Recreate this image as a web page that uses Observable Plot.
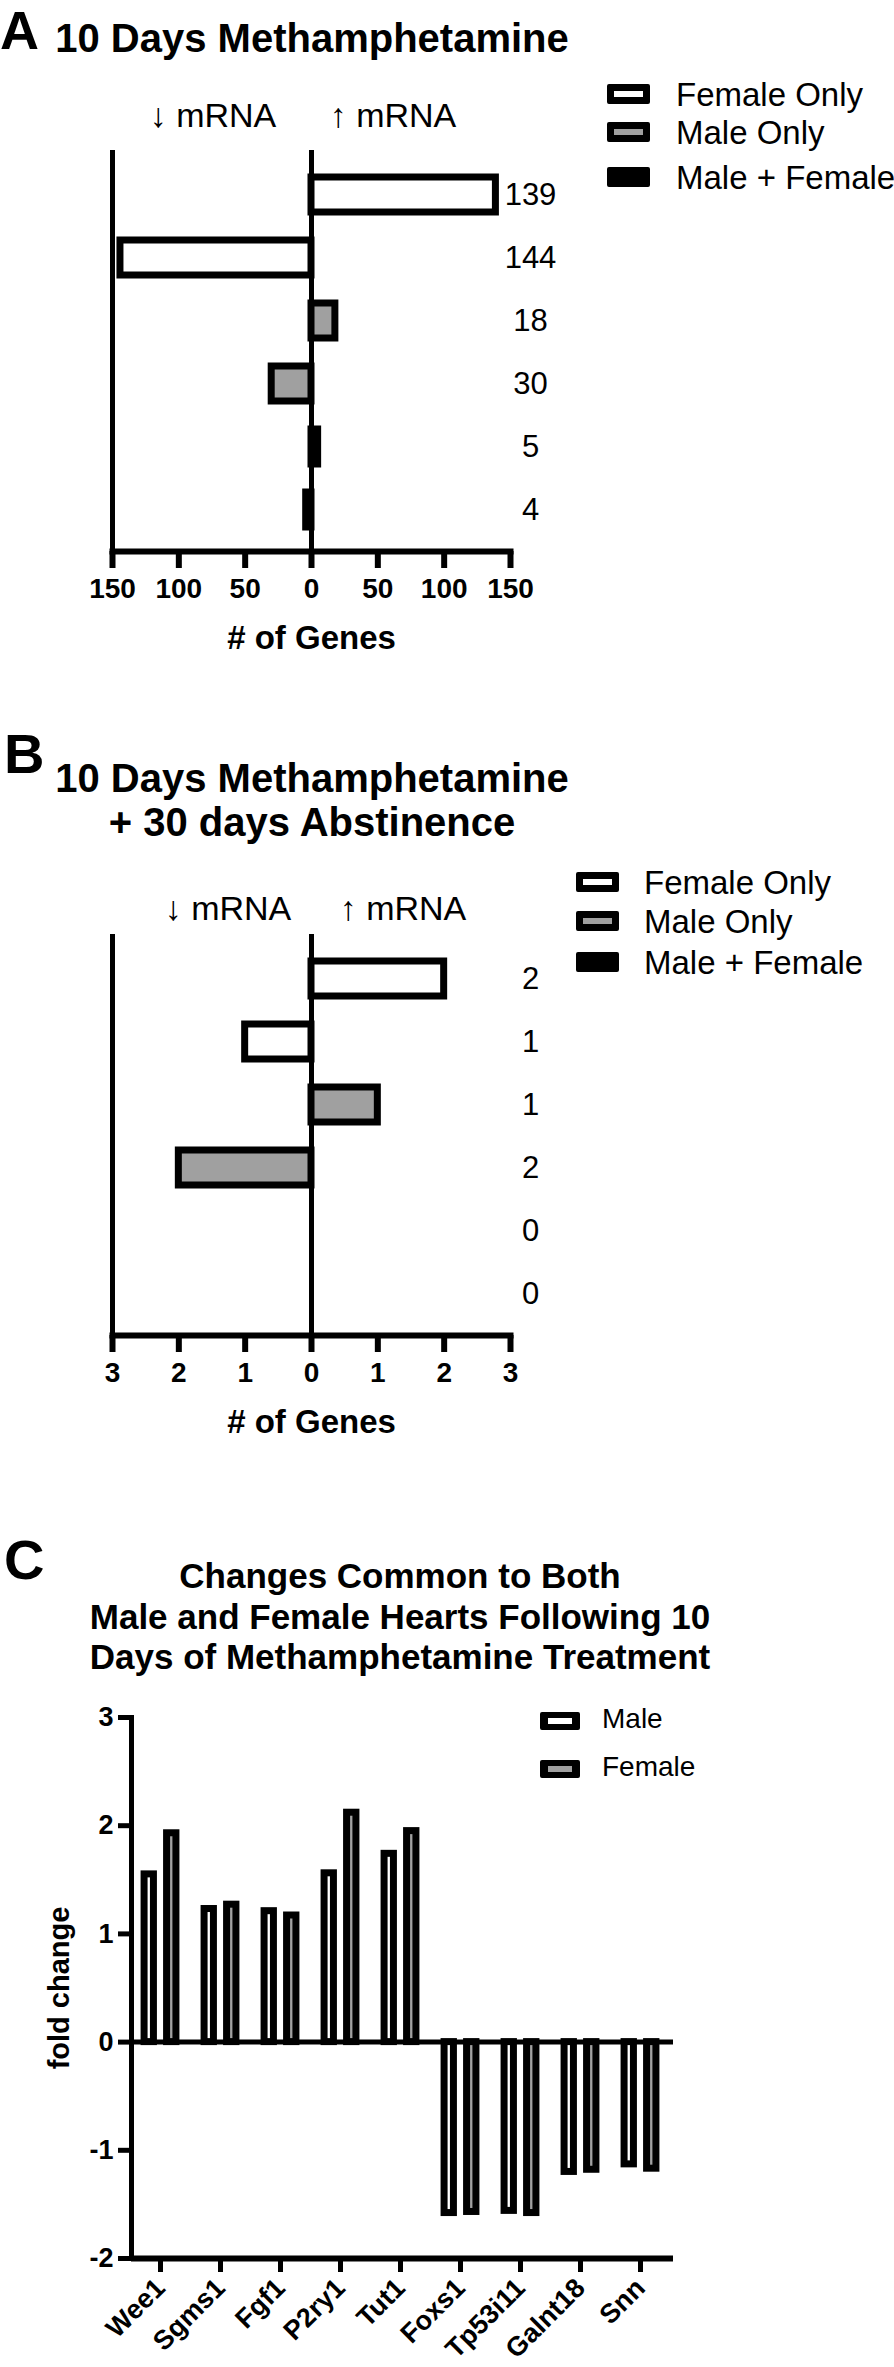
<!DOCTYPE html>
<html><head><meta charset="utf-8">
<script src="https://cdn.jsdelivr.net/npm/d3@7"></script>
<script src="https://cdn.jsdelivr.net/npm/@observablehq/plot@0.6"></script>
<style>
body{margin:0;background:#fff;}
#page{position:relative;width:894px;height:2367px;overflow:hidden;font-family:"Liberation Sans",Arial,sans-serif;color:#000;background:#fff;}
.abs{position:absolute;white-space:nowrap;line-height:1;}
.chart{position:absolute;left:0;}
.sw{position:absolute;box-sizing:border-box;border:7px solid #000;border-radius:2px;}
</style></head>
<body><div id="page"></div>
<script>
// ---- Data ----
const groupsAB = ["Female Only","Female Only","Male Only","Male Only","Male + Female","Male + Female"];
const directionAB = ["up","down","up","down","up","down"];
const countsA = [139,144,18,30,5,4];
const countsB = [2,1,1,2,0,0];
const legendAB = ["Female Only","Male Only","Male + Female"];
const fillsAB = ["#ffffff","#a0a0a0","#000000"];
const ticksA = [-150,-100,-50,0,50,100,150];
const ticksB = [-3,-2,-1,0,1,2,3];
const genes = ["Wee1","Sgms1","Fgf1","P2ry1","Tut1","Foxs1","Tp53i11","Galnt18","Snn"];
const maleFC = [1.55,1.23,1.21,1.56,1.74,-1.58,-1.56,-1.20,-1.13];
const femaleFC = [1.93,1.27,1.17,2.12,1.95,-1.57,-1.58,-1.18,-1.17];
const ticksC = [-2,-1,0,1,2,3];
const legendC = ["Male","Female"];
const fillsC = ["#ffffff","#a0a0a0"];

const FONT = "Liberation Sans, Arial, sans-serif";
const page = document.getElementById("page");

function panelAB(counts, ticks) {
  const rows = counts.map((c, i) => ({
    key: groupsAB[i] + " " + directionAB[i],
    group: groupsAB[i],
    value: directionAB[i] === "up" ? c : -c,
    count: c
  }));
  const keys = rows.map(d => d.key);
  const lim = ticks[ticks.length - 1];
  return Plot.plot({
    width: 894, height: 660,
    marginTop: 150, marginBottom: 109, marginLeft: 112, marginRight: 384,
    style: {background: "transparent", fontFamily: FONT, fontSize: "28px", fontWeight: "bold", color: "#000", overflow: "visible"},
    x: {domain: [-lim, lim]},
    y: {domain: keys, range: [162.5, 541], padding: 0, axis: null},
    color: {domain: legendAB, range: fillsAB},
    marks: [
      Plot.barX(rows, {x: "value", y: "key", fill: "group", stroke: "#000", strokeWidth: 7, insetTop: 14, insetBottom: 14}),
      Plot.ruleX([-lim, 0], {stroke: "#000", strokeWidth: 5}),
      Plot.frame({anchor: "bottom", stroke: "#000", strokeWidth: 6}),
      Plot.axisX({ticks, tickFormat: d => Math.abs(d), tickSize: 17, tickPadding: 10, stroke: "#000", strokeWidth: 6, fontSize: 28, fontWeight: "bold", label: null}),
      Plot.text(rows, {y: "key", text: d => String(d.count), frameAnchor: "right", dx: 20, textAnchor: "middle", fontSize: 31, fontWeight: "normal", fill: "#000"}),
      Plot.text(["# of Genes"], {text: d => d, frameAnchor: "bottom", dy: 97, textAnchor: "middle", fontSize: 33, fontWeight: "bold", fill: "#000"})
    ]
  });
}

function panelC() {
  const male = genes.map((g, i) => ({gene: g, value: maleFC[i]}));
  const female = genes.map((g, i) => ({gene: g, value: femaleFC[i]}));
  return Plot.plot({
    width: 894, height: 667,
    marginTop: 17, marginBottom: 109, marginLeft: 131, marginRight: 221,
    style: {background: "transparent", fontFamily: FONT, fontSize: "27px", fontWeight: "bold", color: "#000", overflow: "visible"},
    x: {domain: genes, range: [127, 673], padding: 0},
    y: {domain: [ticksC[0], ticksC[ticksC.length - 1]]},
    marks: [
      Plot.barY(male, {x: "gene", y: "value", fill: fillsC[0], stroke: "#000", strokeWidth: 7, insetLeft: 25.33, insetRight: 25.33, dx: -11.25}),
      Plot.barY(female, {x: "gene", y: "value", fill: fillsC[1], stroke: "#000", strokeWidth: 7, insetLeft: 25.33, insetRight: 25.33, dx: 11.25}),
      Plot.ruleY([0], {stroke: "#000", strokeWidth: 5}),
      Plot.ruleY([ticksC[0]], {stroke: "#000", strokeWidth: 6}),
      Plot.frame({anchor: "left", stroke: "#000", strokeWidth: 5}),
      Plot.axisY({ticks: ticksC, tickFormat: d => String(d), tickSize: 13, tickPadding: 5, stroke: "#000", strokeWidth: 5, fontSize: 27, fontWeight: "bold", label: null}),
      Plot.axisX({tickSize: 14, tickPadding: 11, tickRotate: -45, stroke: "#000", strokeWidth: 5, fontSize: 27, fontWeight: "bold", label: null}),
      Plot.text(["fold change"], {text: d => d, frameAnchor: "left", dx: -72, rotate: -90, textAnchor: "middle", lineAnchor: "middle", fontSize: 29, fontWeight: "bold", fill: "#000"})
    ]
  });
}

function addChart(svg, top) {
  const d = document.createElement("div");
  d.className = "chart";
  d.style.top = top + "px";
  d.appendChild(svg);
  page.appendChild(d);
}

function label(txt, x, base, fs, weight, anchor) {
  const d = document.createElement("div");
  d.className = "abs";
  d.textContent = txt;
  d.style.fontSize = fs + "px";
  d.style.fontWeight = weight;
  d.style.top = (base - 0.8465 * fs) + "px";
  d.style.left = x + "px";
  if (anchor === "middle") d.style.transform = "translateX(-50%)";
  page.appendChild(d);
}

function swatch(x, cy, w, h, fill, border) {
  const d = document.createElement("div");
  d.className = "sw";
  d.style.left = x + "px";
  d.style.top = (cy - h / 2) + "px";
  d.style.width = w + "px";
  d.style.height = h + "px";
  d.style.background = fill;
  if (border) d.style.borderWidth = border;
  page.appendChild(d);
}

addChart(panelAB(countsA, ticksA), 0);
addChart(panelAB(countsB, ticksB), 784);
addChart(panelC(), 1700);

// Panel A texts
label("A", 0, 49, 54, "bold");
label("10 Days Methamphetamine", 312, 52, 40, "bold", "middle");
label("\u2193 mRNA", 213, 127, 34, "normal", "middle");
label("\u2191 mRNA", 393, 127, 34, "normal", "middle");
[94, 132, 177].forEach((cy, i) => {
  swatch(607, cy, 43, 20, fillsAB[i]);
  label(legendAB[i], 676, cy + 12, 33, "normal");
});

// Panel B texts
label("B", 4, 773, 56, "bold");
label("10 Days Methamphetamine", 312, 792, 40, "bold", "middle");
label("+ 30 days Abstinence", 312, 836, 40, "bold", "middle");
label("\u2193 mRNA", 228, 920, 34, "normal", "middle");
label("\u2191 mRNA", 403, 920, 34, "normal", "middle");
[882, 921, 962].forEach((cy, i) => {
  swatch(576, cy, 43, 20, fillsAB[i]);
  label(legendAB[i], 644, cy + 12, 33, "normal");
});

// Panel C texts
label("C", 4, 1579, 56, "bold");
label("Changes Common to Both", 400, 1588, 35, "bold", "middle");
label("Male and Female Hearts Following 10", 400, 1629, 35, "bold", "middle");
label("Days of Methamphetamine Treatment", 400, 1669, 35, "bold", "middle");
[1721, 1769].forEach((cy, i) => {
  swatch(540, cy, 40, 18, fillsC[i], "6px 8px");
  label(legendC[i], 602, cy + 8, 28, "normal");
});
</script>
</body></html>
